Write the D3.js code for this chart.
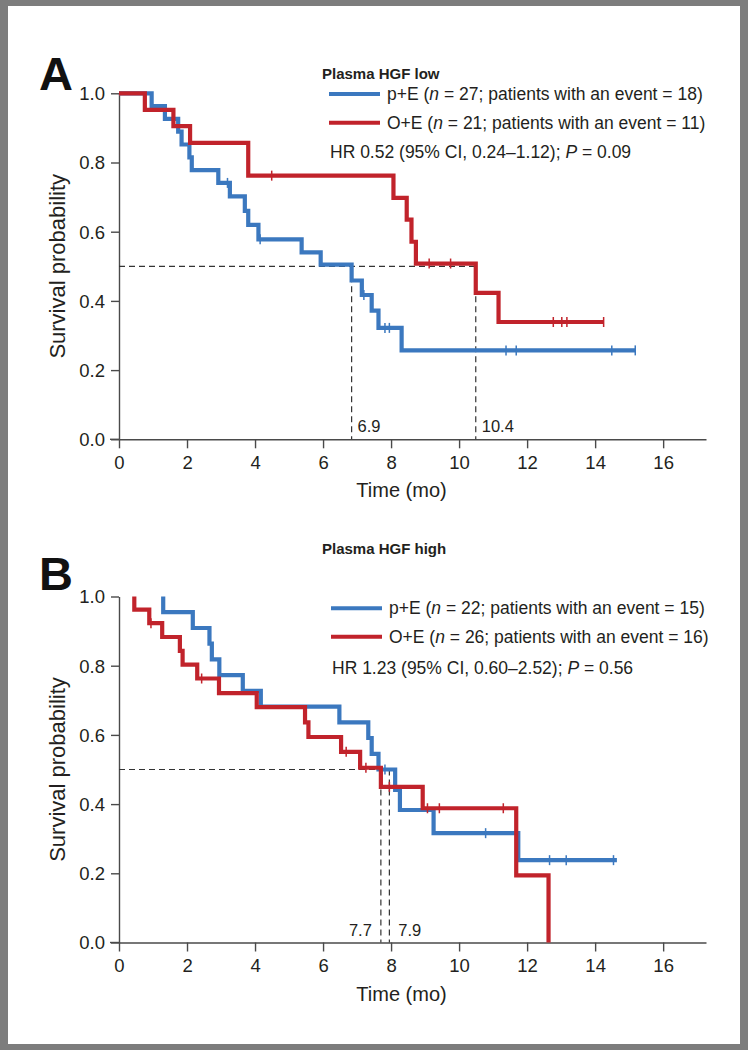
<!DOCTYPE html>
<html>
<head>
<meta charset="utf-8">
<script src="https://cdn.jsdelivr.net/npm/d3@7"></script>
<style>
  body { margin: 0; background: #fff; }
  svg { display: block; font-family: "Liberation Sans", Arial, sans-serif; }
</style>
</head>
<body>
<svg id="chart" width="748" height="1050"></svg>
<script>
// ---- data ----
// panel A : plasma HGF low
var pE_A_times = [0.96, 1.35, 1.74, 1.84, 2.07, 2.14, 2.92, 3.26, 3.70, 3.80, 4.10, 5.37, 5.93, 6.84, 7.14, 7.43, 7.63, 8.31];
var pE_A_surv  = [0.963, 0.926, 0.889, 0.852, 0.815, 0.778, 0.741, 0.702, 0.660, 0.620, 0.578, 0.540, 0.505, 0.459, 0.417, 0.372, 0.322, 0.257];
var pE_A_censor = [3.19, 4.15, 7.20, 7.82, 7.95, 11.38, 11.68, 14.49, 15.18];
var pE_A_end = 15.18;

var oE_A_times = [0.76, 1.60, 2.09, 3.80, 8.07, 8.46, 8.60, 8.73, 10.49, 11.16];
var oE_A_surv  = [0.952, 0.905, 0.857, 0.762, 0.698, 0.635, 0.571, 0.508, 0.423, 0.339];
var oE_A_censor = [4.49, 9.12, 9.75, 12.77, 13.02, 13.17, 14.25];
var oE_A_end = 14.25;

var median_A = [6.84, 10.49];
var median_A_labels = ["6.9", "10.4"];

// panel B : plasma HGF high
var pE_B_start = 1.30;
var pE_B_times = [1.30, 2.17, 2.66, 2.73, 2.95, 3.64, 4.17, 6.48, 7.33, 7.43, 7.63, 8.12, 8.26, 9.25, 11.74];
var pE_B_surv  = [0.955, 0.909, 0.864, 0.818, 0.773, 0.727, 0.682, 0.636, 0.591, 0.545, 0.500, 0.441, 0.383, 0.316, 0.238];
var pE_B_censor = [7.82, 10.78, 12.66, 13.15, 14.54];
var pE_B_end = 14.64;

var oE_B_start = 0.45;
var oE_B_times = [0.45, 0.89, 1.27, 1.79, 1.87, 2.30, 2.94, 4.05, 5.47, 5.57, 6.53, 7.09, 7.70, 8.93, 11.68, 12.63];
var oE_B_surv  = [0.962, 0.923, 0.883, 0.843, 0.803, 0.763, 0.721, 0.680, 0.636, 0.594, 0.551, 0.505, 0.450, 0.388, 0.194, 0];
var oE_B_censor = [0.94, 2.43, 6.68, 7.26, 7.95, 9.07, 9.42, 11.30];
var oE_B_end = 12.63;

var median_B = [7.70, 7.95];
var median_B_labels = ["7.7", "7.9"];

var xTicks = [0, 2, 4, 6, 8, 10, 12, 14, 16];
var yTicks = [0, 0.2, 0.4, 0.6, 0.8, 1.0];

var legend_A = ["p+E (|n| = 27; patients with an event = 18)", "O+E (|n| = 21; patients with an event = 11)"];
var hr_A = "HR 0.52 (95% CI, 0.24\u20131.12); |P| = 0.09";
var legend_B = ["p+E (|n| = 22; patients with an event = 15)", "O+E (|n| = 26; patients with an event = 16)"];
var hr_B = "HR 1.23 (95% CI, 0.60\u20132.52); |P| = 0.56";

var blue = "#3b78bf";
var red = "#c1232b";
var ink = "#231f20";
var axisColor = "#4a4a4a";

var svg = d3.select("#chart");

// grey frame round the figure
svg.append("rect").attr("x", 0).attr("y", 0).attr("width", 748).attr("height", 1050).attr("fill", "#7d7d7d");
svg.append("rect").attr("x", 8).attr("y", 6).attr("width", 732).attr("height", 1038).attr("fill", "#fff");

var xScale = d3.scaleLinear().domain([0, 17.26]).range([119, 706]);

// survival value at time t (step function)
function survAt(times, surv, t) {
  var s = 1;
  for (var i = 0; i < times.length; i++) {
    if (times[i] <= t) s = surv[i];
  }
  return s;
}

function stepPoints(start, times, surv, end) {
  var pts = [[start, 1]];
  var prev = 1;
  for (var i = 0; i < times.length; i++) {
    pts.push([times[i], prev]);
    pts.push([times[i], surv[i]]);
    prev = surv[i];
  }
  pts.push([end, prev]);
  return pts;
}

// text with |..| parts set in italics
function richText(sel, str) {
  var parts = str.split("|");
  parts.forEach(function(p, i) {
    sel.append("tspan").style("font-style", i % 2 ? "italic" : "normal").text(p);
  });
}

function drawPanel(cfg) {
  var g = svg.append("g");
  var yScale = d3.scaleLinear().domain([0, 1]).range(cfg.yRange);

  // axes
  var xAxis = g.append("g")
    .attr("transform", "translate(0," + cfg.yRange[0] + ")")
    .call(d3.axisBottom(xScale).tickValues(xTicks).tickSize(9).tickSizeOuter(0).tickFormat(d3.format("d")));
  var yAxis = g.append("g")
    .attr("transform", "translate(" + xScale(0) + ",0)")
    .call(d3.axisLeft(yScale).tickValues(yTicks).tickSize(8).tickSizeOuter(0).tickFormat(d3.format(".1f")));

  [xAxis, yAxis].forEach(function(ax) {
    ax.select(".domain").attr("stroke", axisColor).attr("stroke-width", 1.4);
    ax.selectAll(".tick line").attr("stroke", axisColor).attr("stroke-width", 1.4);
    ax.selectAll("text").attr("fill", ink).style("font-size", "18.5px")
      .style("font-family", "'Liberation Sans', Arial, sans-serif");
  });
  xAxis.selectAll("text").attr("dy", "0.95em");
  yAxis.selectAll("text").attr("x", -14).attr("dy", "0.35em");
  // x axis line runs left to meet the 0.0 tick
  g.append("line")
    .attr("x1", xScale(0) - 9).attr("x2", xScale(0))
    .attr("y1", cfg.yRange[0]).attr("y2", cfg.yRange[0])
    .attr("stroke", axisColor).attr("stroke-width", 1.4);

  g.append("text")
    .attr("x", (xScale(0) + xScale(17.26)) / 2 - 11)
    .attr("y", cfg.yRange[0] + 58)
    .attr("text-anchor", "middle").attr("fill", ink).style("font-size", "20px")
    .text("Time (mo)");

  g.append("text")
    .attr("transform", "translate(65," + yScale(0.5) + ") rotate(-90)")
    .attr("text-anchor", "middle").attr("fill", ink).style("font-size", "22px")
    .text("Survival probability");

  // medians
  var lastMed = d3.max(cfg.medians);
  g.append("line")
    .attr("x1", xScale(0)).attr("x2", xScale(lastMed))
    .attr("y1", yScale(0.5)).attr("y2", yScale(0.5))
    .attr("stroke", "#333").attr("stroke-width", 1.2).attr("stroke-dasharray", "6,4");
  g.selectAll(".med").data(cfg.medians).enter().append("line")
    .attr("x1", function(d) { return xScale(d); }).attr("x2", function(d) { return xScale(d); })
    .attr("y1", yScale(0.5)).attr("y2", yScale(0))
    .attr("stroke", "#333").attr("stroke-width", 1.2).attr("stroke-dasharray", "6,4");
  g.selectAll(".medlab").data(cfg.medians).enter().append("text")
    .attr("x", function(d, i) { return xScale(d) + cfg.medLabelDx[i]; })
    .attr("y", yScale(0) - 7)
    .attr("text-anchor", function(d, i) { return cfg.medLabelDx[i] < 0 ? "end" : "start"; })
    .attr("fill", ink).style("font-size", "16.5px")
    .text(function(d, i) { return cfg.medLabels[i]; });

  // curves, blue first so red lies on top
  var line = d3.line().x(function(d) { return xScale(d[0]); }).y(function(d) { return yScale(d[1]); });
  cfg.series.forEach(function(s) {
    g.append("path")
      .datum(stepPoints(s.start, s.times, s.surv, s.end))
      .attr("d", line)
      .attr("fill", "none").attr("stroke", s.color).attr("stroke-width", 4.2)
      .attr("stroke-linejoin", "miter").attr("stroke-linecap", "butt");
    g.selectAll(null).data(s.censor).enter().append("line")
      .attr("x1", function(d) { return xScale(d); }).attr("x2", function(d) { return xScale(d); })
      .attr("y1", function(d) { return yScale(survAt(s.times, s.surv, d)) - 5; })
      .attr("y2", function(d) { return yScale(survAt(s.times, s.surv, d)) + 5; })
      .attr("stroke", s.color).attr("stroke-width", 1.5);
  });

  // title + panel letter
  g.append("text").attr("x", 322).attr("y", cfg.titleY)
    .attr("fill", ink).style("font-size", "15px").style("font-weight", "bold")
    .text(cfg.title);
  g.append("text").attr("x", 39).attr("y", cfg.letterY)
    .attr("fill", "#111").style("font-size", "47px").style("font-weight", "bold")
    .text(cfg.letter);

  // legend
  cfg.legend.forEach(function(txt, i) {
    var ly = cfg.legendY[i];
    g.append("line")
      .attr("x1", cfg.legendX).attr("x2", cfg.legendX + 51)
      .attr("y1", ly).attr("y2", ly)
      .attr("stroke", cfg.series[i].color).attr("stroke-width", 4);
    var t = g.append("text").attr("x", cfg.legendX + 58).attr("y", ly + 6)
      .attr("fill", ink).style("font-size", "17.5px");
    richText(t, txt);
  });
  var hr = g.append("text").attr("x", cfg.legendX + 1).attr("y", cfg.legendY[2] + 6)
    .attr("fill", ink).style("font-size", "17.5px");
  richText(hr, cfg.hr);
}

drawPanel({
  letter: "A", letterY: 90, title: "Plasma HGF low", titleY: 79,
  yRange: [439.3, 93.3],
  legendX: 329, legendY: [94, 122.7, 151.7],
  legend: legend_A, hr: hr_A,
  medians: median_A, medLabels: median_A_labels, medLabelDx: [6, 6],
  series: [
    {color: blue, start: 0, times: pE_A_times, surv: pE_A_surv, censor: pE_A_censor, end: pE_A_end},
    {color: red, start: 0, times: oE_A_times, surv: oE_A_surv, censor: oE_A_censor, end: oE_A_end}
  ]
});

drawPanel({
  letter: "B", letterY: 590, title: "Plasma HGF high", titleY: 554,
  yRange: [942.5, 596.5],
  legendX: 331, legendY: [608.3, 636.7, 668.3],
  legend: legend_B, hr: hr_B,
  medians: median_B, medLabels: median_B_labels, medLabelDx: [-9, 9],
  series: [
    {color: blue, start: pE_B_start, times: pE_B_times, surv: pE_B_surv, censor: pE_B_censor, end: pE_B_end},
    {color: red, start: oE_B_start, times: oE_B_times, surv: oE_B_surv, censor: oE_B_censor, end: oE_B_end}
  ]
});
</script>
</body>
</html>
